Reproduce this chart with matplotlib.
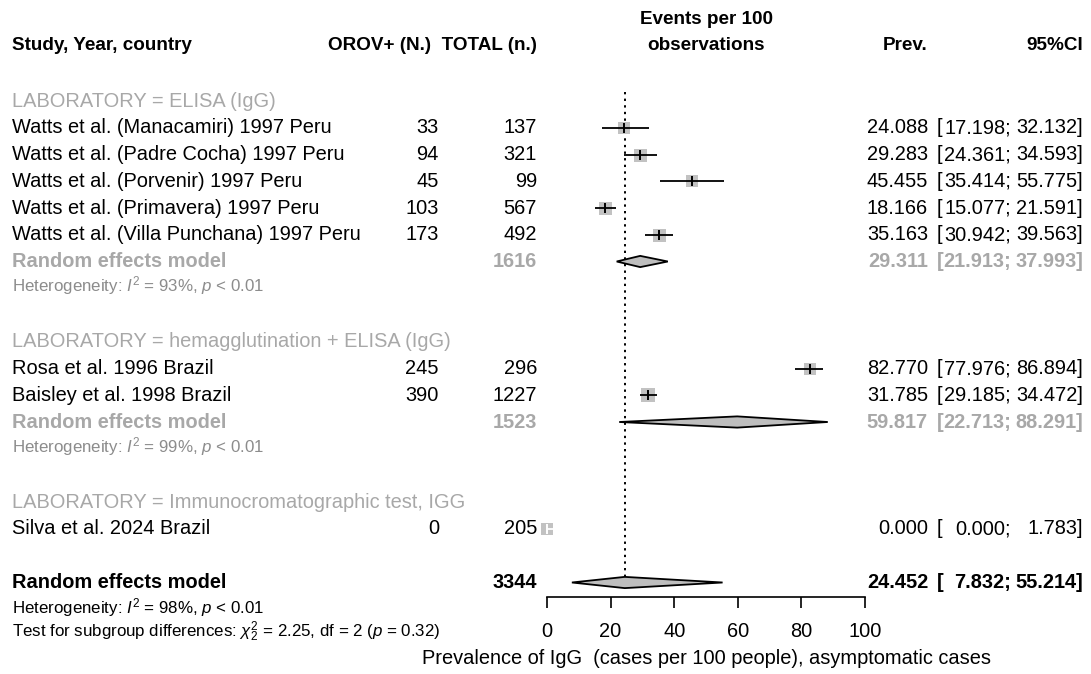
import matplotlib
matplotlib.use("Agg")
import matplotlib.pyplot as plt
from matplotlib.transforms import blended_transform_factory
from matplotlib.patches import Polygon

plt.rcParams['font.family'] = ['Liberation Sans', 'DejaVu Sans']
plt.rcParams['mathtext.fontset'] = 'custom'
plt.rcParams['mathtext.rm'] = 'Liberation Sans'
plt.rcParams['mathtext.it'] = 'Liberation Sans:italic'
plt.rcParams['mathtext.bf'] = 'Liberation Sans:bold'

# ---------------- data ----------------
group_labels = ["LABORATORY = ELISA (IgG)",
                "LABORATORY = hemagglutination + ELISA (IgG)",
                "LABORATORY = Immunocromatographic test, IGG"]
group_het = ["Heterogeneity: $I^2$ = 93%, $p$ < 0.01",
             "Heterogeneity: $I^2$ = 99%, $p$ < 0.01",
             None]

studies = ["Watts et al. (Manacamiri) 1997 Peru",
           "Watts et al. (Padre Cocha) 1997 Peru",
           "Watts et al. (Porvenir) 1997 Peru",
           "Watts et al. (Primavera) 1997 Peru",
           "Watts et al. (Villa Punchana) 1997 Peru",
           "Rosa et al. 1996 Brazil",
           "Baisley et al. 1998 Brazil",
           "Silva et al. 2024 Brazil"]
study_group = [0, 0, 0, 0, 0, 1, 1, 2]
events = [33, 94, 45, 103, 173, 245, 390, 0]
totals = [137, 321, 99, 567, 492, 296, 1227, 205]
prev = [24.088, 29.283, 45.455, 18.166, 35.163, 82.770, 31.785, 0.000]
ci_low = [17.198, 24.361, 35.414, 15.077, 30.942, 77.976, 29.185, 0.000]
ci_high = [32.132, 34.593, 55.775, 21.591, 39.563, 86.894, 34.472, 1.783]
weights = [12.8, 13.0, 12.8, 13.0, 13.0, 12.8, 13.6, 11.8]  # relative square size

sub_total = [1616, 1523, None]
sub_prev = [29.311, 59.817, None]
sub_low = [21.913, 22.713, None]
sub_high = [37.993, 88.291, None]

overall_total = 3344
overall_prev = 24.452
overall_low = 7.832
overall_high = 55.214
overall_het = "Heterogeneity: $I^2$ = 98%, $p$ < 0.01"
subgroup_test = "Test for subgroup differences: $\\chi^2_2$ = 2.25, df = 2 ($p$ = 0.32)"

xticks = [0, 20, 40, 60, 80, 100]
xlabel = "Prevalence of IgG  (cases per 100 people), asymptomatic cases"

# ---------------- layout ----------------
W, H = 1091, 674
fig = plt.figure(figsize=(W / 100, H / 100), dpi=100)
Y0, S = 101.0, 26.75
AX_L, AX_R = 547, 865
ax = fig.add_axes([AX_L / W, 0, (AX_R - AX_L) / W, 1])
ax.set_xlim(0, 100)
ax.set_ylim((H - Y0) / S, -Y0 / S)
ax.axis('off')

tr = blended_transform_factory(fig.transFigure, ax.transData)
FS = 14.4
FS_HEAD = 13.6
FS_SMALL = 12.2
GRAY = '#A8A8A8'
HETGRAY = '#8C8C8C'
SQ = '#C2C2C2'
DIA = '#BEBEBE'

X_STUDY = 12 / W
X_EV = 439 / W
X_TOT = 537 / W
X_PREV = 928 / W
X_CIB = 937 / W
X_CIL = 1011 / W
X_CIH = 1083 / W


def txt(x, y, s, ha='left', color='black', weight='normal', size=FS, **kw):
    ax.text(x, y, s, ha=ha, va='center', color=color, fontweight=weight,
            fontsize=size, transform=tr, clip_on=False, **kw)


def ci_text(r, p, lo, hi, color='black', weight='normal'):
    txt(X_PREV, r, f"{p:.3f}", ha='right', color=color, weight=weight)
    txt(X_CIB, r, "[", color=color, weight=weight)
    txt(X_CIL, r, f"{lo:.3f};", ha='right', color=color, weight=weight)
    txt(X_CIH, r, f"{hi:.3f}]", ha='right', color=color, weight=weight)


def diamond(r, p, lo, hi, h=0.21):
    poly = Polygon([[lo, r], [p, r - h], [hi, r], [p, r + h]], closed=True,
                   facecolor=DIA, edgecolor='black', linewidth=1.3, zorder=4)
    ax.add_patch(poly)


# headers
HR = -2.06
txt(X_STUDY, HR, "Study, Year, country", weight='bold', size=FS_HEAD)
txt(X_TOT, HR, "OROV+ (N.)  TOTAL (n.)", ha='right', weight='bold', size=FS_HEAD)
txt(706 / W, -3.03, "Events per 100", ha='center', weight='bold', size=FS_HEAD)
txt(706 / W, HR, "observations", ha='center', weight='bold', size=FS_HEAD)
txt(X_PREV, HR, "Prev.", ha='right', weight='bold', size=FS_HEAD)
txt(X_CIH, HR, "95%CI", ha='right', weight='bold', size=FS_HEAD)

# reference line
ax.plot([overall_prev, overall_prev], [-0.35, 17.78], color='black',
        linestyle=(0, (1.2, 2.2)), linewidth=1.4, zorder=1)

row = 0
for g in range(3):
    txt(X_STUDY, row, group_labels[g], color=GRAY)
    row += 1
    for i in range(len(studies)):
        if study_group[i] != g:
            continue
        txt(X_STUDY, row, studies[i])
        txt(X_EV, row, str(events[i]), ha='right')
        txt(X_TOT, row, str(totals[i]), ha='right')
        ci_text(row, prev[i], ci_low[i], ci_high[i])
        ms = weights[i] * 0.72
        ax.plot([prev[i]], [row], marker='s', markersize=ms, color=SQ,
                markeredgewidth=0, zorder=2, clip_on=False)
        inside = (ci_high[i] - ci_low[i]) * 3.18 < weights[i]
        lc = 'white' if inside else 'black'
        ax.plot([ci_low[i], ci_high[i]], [row, row], color=lc, linewidth=1.3,
                zorder=3, solid_capstyle='butt', clip_on=False)
        ax.plot([prev[i]], [row], marker='|', markersize=6.5, color=lc,
                markeredgewidth=1.4, zorder=3, clip_on=False)
        row += 1
    if sub_total[g] is not None:
        txt(X_STUDY, row, "Random effects model", color=GRAY, weight='bold')
        txt(X_TOT, row, str(sub_total[g]), ha='right', color=GRAY, weight='bold')
        ci_text(row, sub_prev[g], sub_low[g], sub_high[g], color=GRAY, weight='bold')
        diamond(row, sub_prev[g], sub_low[g], sub_high[g])
        row += 1
        txt(X_STUDY, row - 0.1, group_het[g], color=HETGRAY, size=FS_SMALL)
        row += 2
    else:
        row += 1

# overall
txt(X_STUDY, row, "Random effects model", weight='bold')
txt(X_TOT, row, str(overall_total), ha='right', weight='bold')
ci_text(row, overall_prev, overall_low, overall_high, weight='bold')
diamond(row, overall_prev, overall_low, overall_high)
txt(X_STUDY, row + 0.95, overall_het, size=FS_SMALL)
txt(X_STUDY, row + 1.85, subgroup_test, size=FS_SMALL)

# x axis
axx = fig.add_axes([AX_L / W, 1 - 597 / H, (AX_R - AX_L) / W, 0.0001])
axx.set_xlim(0, 100)
for sp in ['top', 'left', 'right']:
    axx.spines[sp].set_visible(False)
axx.spines['bottom'].set_linewidth(1.2)
axx.set_yticks([])
axx.set_xticks(xticks)
axx.set_xticklabels([str(t) for t in xticks])
axx.tick_params(axis='x', length=8, width=1.2, pad=10, labelsize=FS)
axx.patch.set_visible(False)
fig.text(706 / W, 1 - 659 / H, xlabel, ha='center', va='center', fontsize=FS)

fig.savefig("out.png", dpi=100)
